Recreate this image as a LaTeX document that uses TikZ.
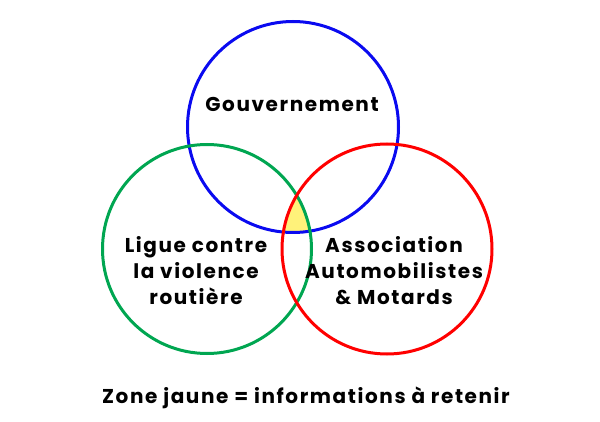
\documentclass[tikz,border=0pt]{standalone}
\usepackage{fontspec}
\setmainfont{Poppins}[LetterSpace=8]
\usepackage{xcolor}
\usepackage{tikz}
\usetikzlibrary{positioning}
\definecolor{govblue}{HTML}{0A0AF0}
\definecolor{ligue}{HTML}{00A651}
\definecolor{auto}{HTML}{FF0000}
\definecolor{zone}{HTML}{FFF27A}

\begin{document}
\begin{tikzpicture}[x=1pt, y=-1pt,
    set/.style={circle, draw=#1, line width=3pt, minimum size=211pt, inner sep=0pt},
    lbl/.style={align=center, font=\fontsize{20}{26}\selectfont\bfseries}]
  \useasboundingbox (0,0) rectangle (600,422);
  % zone jaune : intersection des trois cercles
  \begin{scope}
    \clip (293,127) circle (105.5pt);
    \clip (207,249) circle (104.5pt);
    \fill[zone] (387,249) circle (105pt);
  \end{scope}
  \node[set=govblue] (gouv) at (293,127) {};
  \node[set=ligue, minimum size=209pt] (ligue) at (207,249) {};
  \node[set=auto, minimum size=210pt] (assoc) at (387,249) {};
  \node[lbl] (gouvtxt) at (292,104) {Gouvernement};
  \node[lbl] (liguetxt) at (196,271) {Ligue contre\\la violence\\routière};
  \node[lbl] (assoctxt) at (394,271) {Association\\Automobilistes\\\& Motards};
  \node[lbl] (legende) at (306,398) {Zone jaune = informations à retenir};
\end{tikzpicture}
\end{document}
